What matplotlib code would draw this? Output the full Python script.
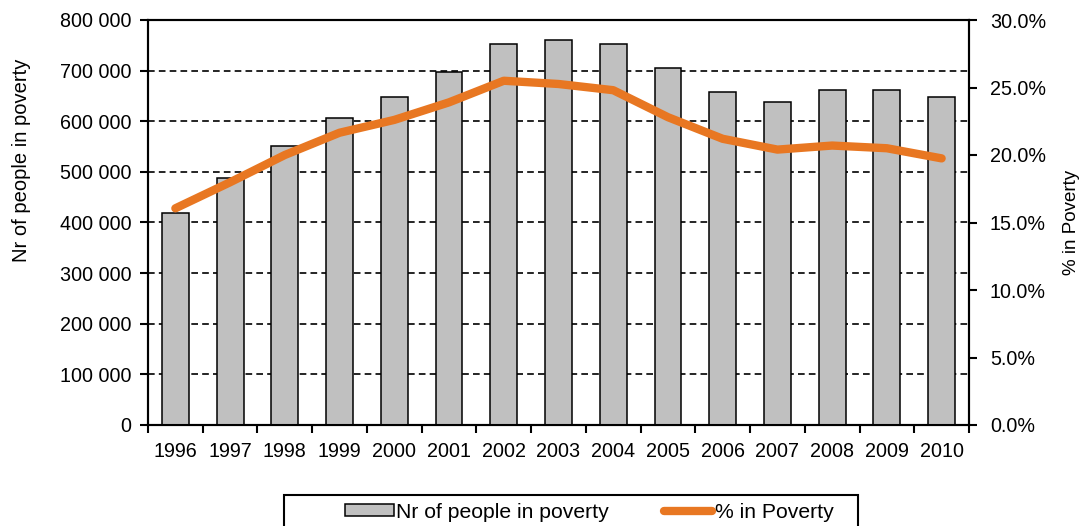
import matplotlib
matplotlib.use('Agg')
import matplotlib.pyplot as plt
from matplotlib.ticker import FuncFormatter, MultipleLocator
from matplotlib.patches import Rectangle
import numpy as np

plt.rcParams['font.family'] = ['Liberation Sans', 'DejaVu Sans']

years = ['1996', '1997', '1998', '1999', '2000', '2001', '2002', '2003',
         '2004', '2005', '2006', '2007', '2008', '2009', '2010']
people = [418000, 488000, 551000, 607000, 647000, 698000, 753000, 760000,
          753000, 706000, 658000, 639000, 662000, 662000, 647000]
pct_poverty = [16.05, 17.98, 20.0, 21.65, 22.6, 23.9, 25.5, 25.26,
               24.8, 22.8, 21.2, 20.4, 20.7, 20.5, 19.75]

FS = 14.2
orange = '#E87722'

fig = plt.figure(figsize=(10.84, 5.26), dpi=100)
ax = fig.add_axes([148 / 1084, 1 - 425 / 526, (969 - 148) / 1084, (425 - 20) / 526])
ax2 = ax.twinx()

x = np.arange(len(years))
bars = ax.bar(x, people, width=0.49, color='#C0C0C0', edgecolor='black',
              linewidth=1.1, zorder=3, label='Nr of people in poverty')
line, = ax2.plot(x, pct_poverty, color=orange, linewidth=6,
                 solid_capstyle='round', solid_joinstyle='round', label='% in Poverty')

# left axis
ax.set_xlim(-0.5, len(years) - 0.5)
ax.set_ylim(0, 800000)
ax.yaxis.set_major_locator(MultipleLocator(100000))
ax.yaxis.set_major_formatter(FuncFormatter(lambda v, p: '{:,.0f}'.format(v).replace(',', ' ')))
ax.grid(axis='y', color='black', linestyle=(0, (4, 2.5)), linewidth=1.2, zorder=0)
ax.set_axisbelow(True)
ax.set_xticks(x)
ax.set_xticklabels(years)
ax.set_xticks(np.arange(-0.5, len(years)), minor=True)
ax.tick_params(axis='x', which='major', length=0, pad=12, labelsize=FS)
ax.tick_params(axis='x', which='minor', length=6, width=1.5, direction='out')
ax.tick_params(axis='y', length=6, width=1.5, direction='out', pad=6, labelsize=FS)
ax.set_ylabel('Nr of people in poverty', fontsize=14.5)
# the label sits above the middle of the axis in the original
ax.yaxis.set_label_coords(-0.142, 0.654)

# right axis
ax2.set_ylim(0, 30)
ax2.yaxis.set_major_locator(MultipleLocator(5))
ax2.yaxis.set_major_formatter(FuncFormatter(lambda v, p: '{:.1f}%'.format(v)))
ax2.tick_params(axis='y', length=6, width=1.5, direction='out', pad=9, labelsize=FS)
ax2.set_ylabel('% in Poverty', fontsize=13.5)
ax2.yaxis.set_label_coords(1.1145, 0.5)

for a in (ax, ax2):
    for s in a.spines.values():
        s.set_linewidth(1.5)
        s.set_color('black')

# legend with a square frame running off the bottom
fig.patches.append(Rectangle((284 / 1084, -0.1), (858 - 284) / 1084, 0.1 + 1 - 495 / 526,
                             transform=fig.transFigure, facecolor='none',
                             edgecolor='black', linewidth=1.5))
fig.legend([bars, line], ['Nr of people in poverty', '% in Poverty'],
           loc='center left', bbox_to_anchor=(345 / 1084, 1 - 512 / 526),
           ncol=2, frameon=False, fontsize=15.2, handlelength=2.3, handleheight=0.55,
           handletextpad=0.12, columnspacing=2.6, borderpad=0, borderaxespad=0)

fig.savefig('out.png', dpi=100)
